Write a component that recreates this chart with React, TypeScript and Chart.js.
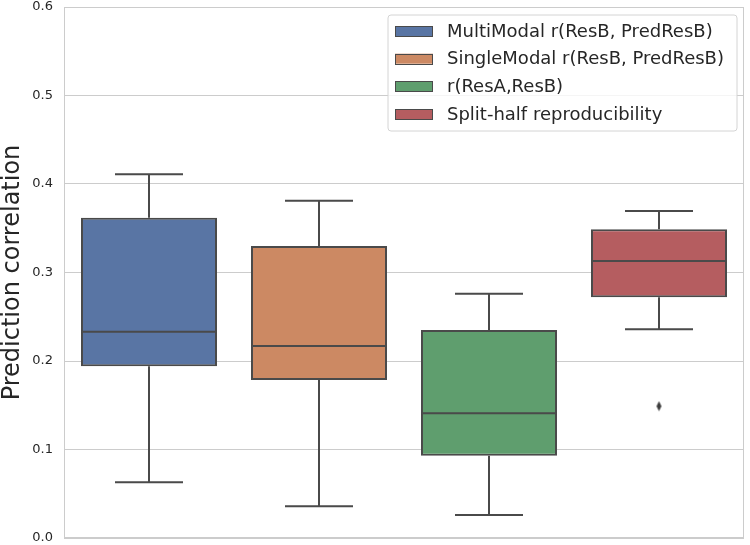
import React, { useEffect, useRef } from "react";
import { Chart, registerables } from "chart.js";
Chart.register(...registerables);

const categories = [
  "MultiModal r(ResB, PredResB)",
  "SingleModal r(ResB, PredResB)",
  "r(ResA,ResB)",
  "Split-half reproducibility",
];
const whiskerLow = [0.063, 0.036, 0.026, 0.236];
const q1 = [0.194, 0.1785, 0.093, 0.272];
const median = [0.233, 0.217, 0.141, 0.313];
const q3 = [0.362, 0.33, 0.235, 0.349];
const whiskerHigh = [0.411, 0.381, 0.276, 0.3695];
const outliers: (number | null)[] = [null, null, null, 0.149];
const colors = ["#5975a4", "#cc8963", "#5f9e6e", "#b55d60"];
const yTickValues = [0, 0.1, 0.2, 0.3, 0.4, 0.5, 0.6];
const yTitle = "Prediction correlation";

const LINE = "#4a4a4a";
const FONT = "DejaVu Sans";

export default function App() {
  const ref = useRef<HTMLCanvasElement>(null);
  useEffect(() => {
    if (!ref.current) return;
    const diamond = document.createElement("canvas");
    diamond.width = 7;
    diamond.height = 11;
    const dctx = diamond.getContext("2d")!;
    dctx.fillStyle = "#3d3d3d";
    dctx.beginPath();
    dctx.moveTo(3.5, 0.5);
    dctx.lineTo(6.0, 5.5);
    dctx.lineTo(3.5, 10.5);
    dctx.lineTo(1.0, 5.5);
    dctx.closePath();
    dctx.fill();

    const boxPlugin = {
      id: "boxParts",
      afterDatasetsDraw(chart: any) {
        const ctx = chart.ctx;
        const x = chart.scales.x;
        const y = chart.scales.y;
        const meta = chart.getDatasetMeta(0);
        const ca = chart.chartArea;
        ctx.save();
        ctx.strokeStyle = LINE;
        ctx.lineWidth = 2;
        categories.forEach((_, i) => {
          const el = meta.data[i];
          const cx = x.getPixelForValue(i);
          const w = el.width;
          const yl = y.getPixelForValue(whiskerLow[i]);
          const yq1 = y.getPixelForValue(q1[i]);
          const ym = y.getPixelForValue(median[i]);
          const yq3 = y.getPixelForValue(q3[i]);
          const yh = y.getPixelForValue(whiskerHigh[i]);
          ctx.beginPath();
          ctx.moveTo(cx, yq1);
          ctx.lineTo(cx, yl);
          ctx.moveTo(cx, yq3);
          ctx.lineTo(cx, yh);
          ctx.moveTo(cx - w / 4, yl);
          ctx.lineTo(cx + w / 4, yl);
          ctx.moveTo(cx - w / 4, yh);
          ctx.lineTo(cx + w / 4, yh);
          ctx.moveTo(cx - w / 2, ym);
          ctx.lineTo(cx + w / 2, ym);
          ctx.stroke();
        });
        // spines
        ctx.strokeStyle = "#cccccc";
        ctx.lineWidth = 1;
        ctx.strokeRect(
          Math.round(ca.left) + 0.5,
          Math.round(ca.top) + 0.5,
          Math.round(ca.right - ca.left) - 1,
          Math.round(ca.bottom - ca.top) - 1
        );
        ctx.restore();
      },
      afterDraw(chart: any) {
        const ctx = chart.ctx;
        ctx.save();
        const lx = 388, ly = 15, lw = 349, lh = 116, r = 3;
        ctx.beginPath();
        ctx.moveTo(lx + r, ly);
        ctx.lineTo(lx + lw - r, ly);
        ctx.arcTo(lx + lw, ly, lx + lw, ly + r, r);
        ctx.lineTo(lx + lw, ly + lh - r);
        ctx.arcTo(lx + lw, ly + lh, lx + lw - r, ly + lh, r);
        ctx.lineTo(lx + r, ly + lh);
        ctx.arcTo(lx, ly + lh, lx, ly + lh - r, r);
        ctx.lineTo(lx, ly + r);
        ctx.arcTo(lx, ly, lx + r, ly, r);
        ctx.closePath();
        ctx.fillStyle = "rgba(255,255,255,0.8)";
        ctx.fill();
        ctx.strokeStyle = "#d4d4d4";
        ctx.lineWidth = 1;
        ctx.stroke();
        ctx.font = `18px "${FONT}"`;
        ctx.textBaseline = "middle";
        categories.forEach((c, i) => {
          const cy = 31 + i * 27.7;
          ctx.fillStyle = colors[i];
          ctx.fillRect(395, cy - 5, 38, 10);
          ctx.strokeStyle = LINE;
          ctx.lineWidth = 1;
          ctx.strokeRect(395.5, Math.round(cy - 5) + 0.5, 37, 10);
          ctx.fillStyle = "#262626";
          ctx.fillText(c, 447, cy + 1);
        });
        ctx.restore();
      },
    };

    const chart = new Chart(ref.current, {
      type: "bar",
      data: {
        labels: categories,
        datasets: [
          {
            type: "bar",
            data: q1.map((v, i) => [v, q3[i]]) as any,
            backgroundColor: colors,
            borderColor: LINE,
            borderWidth: 2,
            borderSkipped: false,
            categoryPercentage: 0.8,
            barPercentage: 1,
            order: 2,
          },
          {
            type: "line",
            data: outliers as any,
            showLine: false,
            pointStyle: diamond as any,
            pointRadius: 5,
            order: 1,
          } as any,
        ],
      },
      options: {
        animation: false,
        responsive: false,
        events: [],
        layout: { padding: { left: 0, top: 7, right: 4, bottom: 7 } },
        plugins: { legend: { display: false }, tooltip: { enabled: false } },
        scales: {
          x: { display: false, offset: true },
          y: {
            min: 0,
            max: 0.6,
            afterFit(s: any) {
              s.width = 64;
              s.paddingTop = 0;
              s.paddingBottom = 0;
            },
            afterBuildTicks(s: any) {
              s.ticks = yTickValues.map((v) => ({ value: v }));
            },
            grid: { color: "#cccccc", drawTicks: false, lineWidth: 1 },
            border: { display: false },
            ticks: {
              padding: 11,
              color: "#262626",
              font: { family: FONT, size: 13 },
              callback: (v: any) => Number(v).toFixed(1),
            },
            title: {
              display: true,
              text: yTitle,
              color: "#262626",
              font: { family: FONT, size: 24, lineHeight: 1 },
              padding: { top: 1, bottom: 0 },
            },
          },
        },
      },
      plugins: [boxPlugin],
    });
    return () => chart.destroy();
  }, []);
  return (
    <div style={{ position: "absolute", left: 0, top: 0, width: 750, height: 545 }}>
      <canvas ref={ref} width={750} height={545} style={{ display: "block" }} />
    </div>
  );
}
